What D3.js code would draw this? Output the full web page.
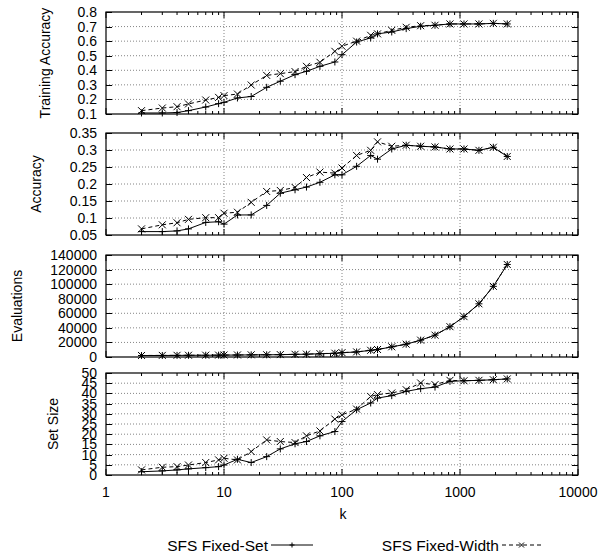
<!DOCTYPE html>
<html>
<head>
<meta charset="utf-8">
<script src="https://cdn.jsdelivr.net/npm/d3@7"></script>
<style>
body{margin:0;background:#fff;}
text{font-family:"Liberation Sans",Arial,sans-serif;font-size:14px;fill:#000;}
text.legend{font-size:15.5px;}
</style>
</head>
<body>
<script>
var width = 602, height = 553;
var left = 106, right = 578;

// data
var kValues = [2,3,4,5,7,9,10,13,17,23,30,40,50,65,87,100,133,175,200,264,350,464,614,822,1081,1447,1916,2515];

var trainFixedSet   = [0.107,0.107,0.110,0.123,0.148,0.171,0.180,0.210,0.220,0.283,0.325,0.370,0.393,0.427,0.457,0.507,0.594,0.622,0.650,0.663,0.686,0.702,0.709,0.718,0.718,0.718,0.722,0.718];
var trainFixedWidth = [0.123,0.141,0.150,0.169,0.196,0.214,0.226,0.237,0.299,0.365,0.377,0.391,0.427,0.455,0.530,0.565,0.600,0.640,0.650,0.674,0.695,0.706,0.709,0.718,0.718,0.718,0.722,0.718];

var accFixedSet   = [0.060,0.060,0.062,0.068,0.087,0.089,0.082,0.109,0.109,0.137,0.173,0.183,0.191,0.205,0.227,0.227,0.252,0.284,0.273,0.303,0.314,0.311,0.309,0.303,0.303,0.299,0.308,0.281];
var accFixedWidth = [0.068,0.080,0.086,0.096,0.101,0.101,0.114,0.117,0.146,0.178,0.181,0.190,0.219,0.235,0.232,0.247,0.284,0.299,0.324,0.311,0.314,0.311,0.309,0.303,0.303,0.299,0.308,0.281];

var evalFixedSet   = [2000,2100,2200,2300,2400,2500,2600,2700,2900,3000,3200,3600,3800,4500,5100,5900,6900,9200,10200,13900,17600,23100,30000,41600,55400,73000,97000,127000];
var evalFixedWidth = [2100,2200,2300,2400,2500,2600,2700,2800,3000,3100,3300,3700,3900,4600,5200,6000,7000,9200,10300,14000,17600,23100,30000,41600,55400,73000,97000,127000];

var sizeFixedSet   = [1.6,2.0,2.5,3.0,3.6,4.1,4.9,7.7,6.1,9.0,12.8,15.3,16.4,19.2,21.3,26.2,32.0,35.3,37.7,38.9,41.0,42.3,43.1,45.9,46.2,46.4,46.7,47.1];
var sizeFixedWidth = [2.5,3.8,4.1,4.9,6.1,7.4,8.2,7.4,11.5,17.2,16.4,15.9,19.2,21.6,27.4,29.5,32.3,38.5,39.4,40.2,41.8,45.1,44.3,46.4,46.2,46.4,46.7,47.1];

var panelTitles = ["Training Accuracy","Accuracy","Evaluations","Set Size"];
var panelMax    = [0.8,0.35,140000,50];
var panelMin    = [0.1,0.05,0,0];
var panelStep   = [0.1,0.05,20000,5];
var xTicks      = [1,10,100,1000,10000];
var legendNames = ["SFS Fixed-Set","SFS Fixed-Width"];

var panelTop = [12,133,255,373];
var panelH = 102;
var titleX = [45,36,17,53];

var panelData = [
  [trainFixedSet, trainFixedWidth],
  [accFixedSet, accFixedWidth],
  [evalFixedSet, evalFixedWidth],
  [sizeFixedSet, sizeFixedWidth]
];

var svg = d3.select("body").append("svg")
    .attr("width", width)
    .attr("height", height);

var x = d3.scaleLog().domain([1,10000]).range([left,right]);

var minorTicks = [];
for (var p = 1; p < 10000; p *= 10) {
  for (var m = 2; m <= 9; m++) minorTicks.push(p*m);
}

function marker(sel, type, s) {
  if (type == 0) return sel.attr("d", "M" + (-s) + ",0H" + s + "M0," + (-s) + "V" + s);
  return sel.attr("d", "M" + (-s) + "," + (-s) + "L" + s + "," + s + "M" + (-s) + "," + s + "L" + s + "," + (-s));
}

panelTitles.forEach(function(title, i){
  var top = panelTop[i], bottom = top + panelH;
  var y = d3.scaleLinear().domain([panelMin[i], panelMax[i]]).range([bottom, top]);
  var yTicks = d3.range(panelMin[i], panelMax[i] + panelStep[i]/2, panelStep[i]).map(function(v){ return +v.toFixed(3); });
  var g = svg.append("g");

  // grid
  g.selectAll(".hgrid").data(yTicks.slice(1, -1)).enter().append("line")
    .attr("x1", left).attr("x2", right)
    .attr("y1", function(d){ return y(d); }).attr("y2", function(d){ return y(d); })
    .style("stroke", "#666").style("stroke-width", 0.8).style("stroke-dasharray", "1,2");
  g.selectAll(".vgrid").data([10,100,1000]).enter().append("line")
    .attr("y1", top).attr("y2", bottom)
    .attr("x1", function(d){ return x(d); }).attr("x2", function(d){ return x(d); })
    .style("stroke", "#666").style("stroke-width", 0.8).style("stroke-dasharray", "1,2");

  // ticks, inward on all sides
  g.selectAll(".yt").data(yTicks).enter().append("path")
    .attr("d", function(d){ var yy = Math.round(y(d)) + 0.5; return "M" + left + "," + yy + "h6M" + right + "," + yy + "h-6"; })
    .style("stroke", "#000");
  g.selectAll(".xt").data(xTicks).enter().append("path")
    .attr("d", function(d){ var xx = x(d); return "M" + xx + "," + top + "v6M" + xx + "," + bottom + "v-6"; })
    .style("stroke", "#000");
  g.selectAll(".xm").data(minorTicks).enter().append("path")
    .attr("d", function(d){ var xx = x(d); return "M" + xx + "," + top + "v3M" + xx + "," + bottom + "v-3"; })
    .style("stroke", "#000");

  // tick labels
  g.selectAll(".yl").data(yTicks).enter().append("text")
    .attr("x", left - 9).attr("y", function(d){ return y(d); })
    .attr("dy", "0.36em").attr("text-anchor", "end")
    .text(function(d){ return String(d); });

  // frame
  g.append("rect").attr("x", left).attr("y", top).attr("width", right - left).attr("height", panelH)
    .style("fill", "none").style("stroke", "#000").style("stroke-width", 1.2);

  // title
  g.append("text")
    .attr("transform", "translate(" + titleX[i] + "," + (top + panelH/2) + ") rotate(-90)")
    .attr("dy", "0.36em").attr("text-anchor", "middle")
    .text(title);

  // series
  panelData[i].forEach(function(vals, s){
    var line = d3.line().x(function(d, j){ return x(kValues[j]); }).y(function(d){ return y(d); });
    g.append("path").datum(vals)
      .attr("d", line)
      .style("fill", "none").style("stroke", "#000").style("stroke-width", 1)
      .style("stroke-dasharray", s == 1 ? "4,3" : null);
    g.selectAll(".m" + s).data(vals).enter().append("path")
      .attr("transform", function(d, j){ return "translate(" + x(kValues[j]) + "," + y(d) + ")"; })
      .call(marker, s, 3.5)
      .style("fill", "none").style("stroke", "#000").style("stroke-width", 1);
  });
});

// x tick labels and title
var bottomY = panelTop[3] + panelH;
svg.selectAll(".xl").data(xTicks).enter().append("text")
  .attr("x", function(d){ return x(d); }).attr("y", bottomY + 17)
  .attr("dy", "0.36em").attr("text-anchor", "middle")
  .text(function(d){ return d; });
svg.append("text").attr("x", (left + right)/2 + 1).attr("y", 514).attr("dy", "0.36em")
  .attr("text-anchor", "middle").text("k");

// legend
var legendX = [268, 499];
var legendLen = [45, 42];
legendNames.forEach(function(name, s){
  var lx = legendX[s], ly = 545;
  svg.append("text").attr("class", "legend").attr("x", lx).attr("y", ly).attr("dy", "0.36em").attr("text-anchor", "end").text(name);
  svg.append("line").attr("x1", lx + 3).attr("x2", lx + legendLen[s]).attr("y1", ly).attr("y2", ly)
    .style("stroke", "#000").style("stroke-dasharray", s == 1 ? "4,3" : null);
  svg.append("path").attr("transform", "translate(" + (lx + 3 + (legendLen[s] - 3)/2) + "," + ly + ")")
    .call(marker, s, 2.5).style("stroke", "#000").style("fill", "none");
});
</script>
</body>
</html>
